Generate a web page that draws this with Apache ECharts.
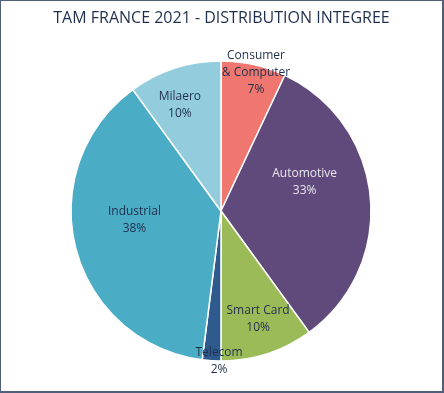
<!DOCTYPE html>
<html>
<head>
<meta charset="utf-8">
<script src="https://cdn.jsdelivr.net/npm/echarts@6/dist/echarts.min.js"></script>
<style>
  html, body { margin: 0; padding: 0; background: #fff; }
  #frame { width: 444px; height: 393px; box-sizing: border-box; border-style: solid; border-color: #4f5f7a; border-width: 1px 2px 2px 1px; position: relative; }
  #chart { position: absolute; left: 0; top: 0; width: 441px; height: 390px; }
</style>
</head>
<body>
<div id="frame"><div id="chart"></div></div>
<script>
const title = 'TAM FRANCE 2021 - DISTRIBUTION INTEGREE';
const categories = ['Consumer\n& Computer', 'Automotive', 'Smart Card', 'Telecom', 'Industrial', 'Milaero'];
const values = [7, 33, 10, 2, 38, 10];
const colors = ['#f0776f', '#604a7b', '#9bbb59', '#2e5a8e', '#4bacc6', '#93cddd'];
const labelColors = ['#1f2f4c', '#e8e6ee', '#1f2f4c', '#1f2f4c', '#1f2f4c', '#1f2f4c'];
// label offsets from the default 'inside' position (style only)
const labelShift = [[18, -62], [6, -22], [13, 34], [3, 72], [-11, -10], [-17, -32]];

const chart = echarts.init(document.getElementById('chart'), null, { renderer: 'canvas' });
chart.setOption({
  animation: false,
  title: {
    text: title,
    left: 'center',
    top: 4,
    textStyle: { fontFamily: 'Open Sans', fontSize: 16, fontWeight: 'normal', color: '#1f2f4c' }
  },
  series: [{
    type: 'pie',
    center: [220, 210],
    radius: [0, 150],
    startAngle: 90,
    clockwise: true,
    avoidLabelOverlap: false,
    itemStyle: { borderColor: '#ffffff', borderWidth: 1.5 },
    label: {
      show: true,
      position: 'inside',
      fontFamily: 'Open Sans',
      fontSize: 12,
      lineHeight: 17,
      align: 'center',
      formatter: function (p) { return p.name + '\n' + p.value + '%'; }
    },
    labelLine: { show: false },
    labelLayout: function (p) {
      const s = labelShift[p.dataIndex];
      return { dx: s[0], dy: s[1] };
    },
    data: categories.map(function (c, i) {
      return {
        name: c,
        value: values[i],
        itemStyle: { color: colors[i] },
        label: { color: labelColors[i] }
      };
    })
  }]
});
</script>
</body>
</html>
